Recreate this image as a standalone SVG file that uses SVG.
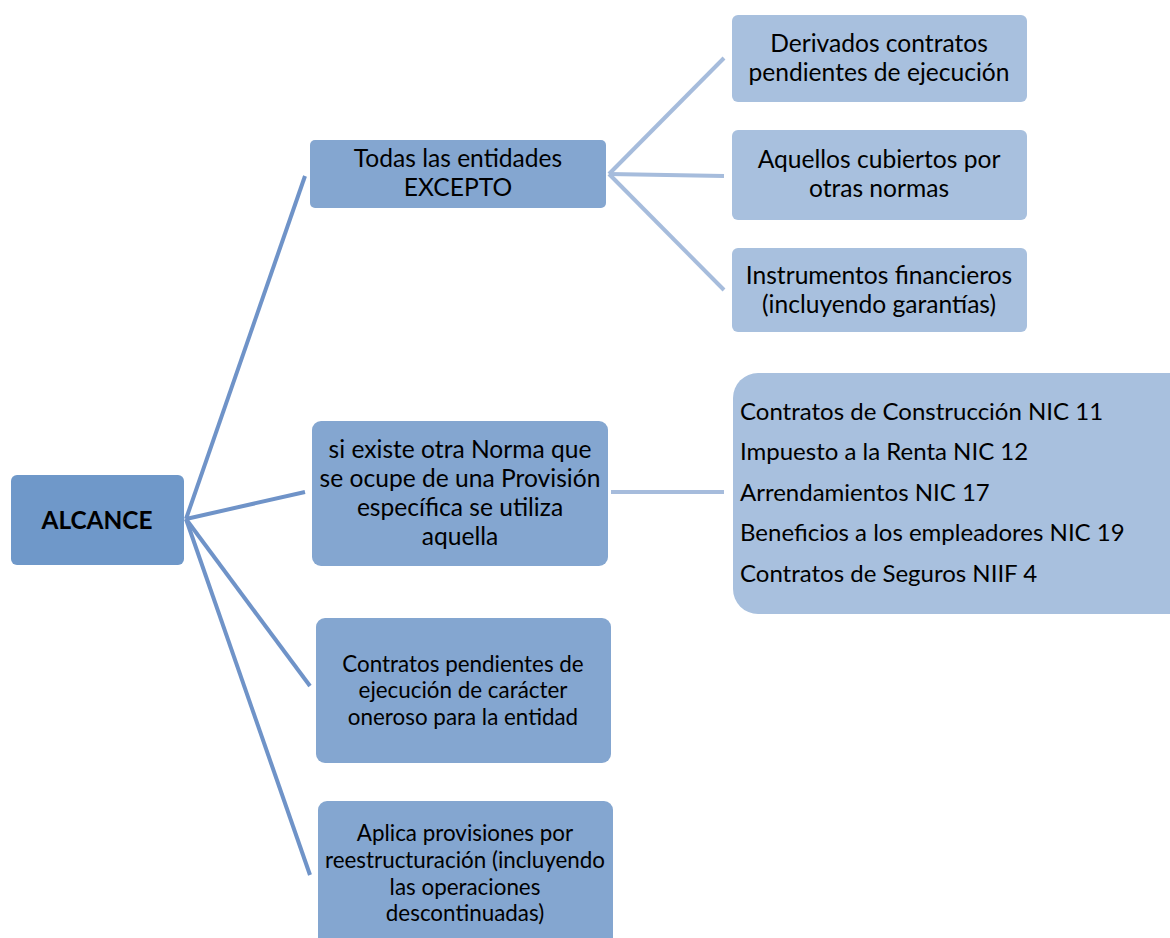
<svg xmlns="http://www.w3.org/2000/svg" width="1170" height="938" viewBox="0 0 1170 938">
  <style>
    text { font-family: Lato, "Open Sans", "Liberation Sans", sans-serif; fill: #000; }
    .root { fill: #6f98c9; }
    .mid { fill: #84a6d0; }
    .leaf { fill: #a8c0de; }
    .t22 { font-size: 24.6px; text-anchor: middle; }
    .t20 { font-size: 22.4px; text-anchor: middle; }
    .list { font-size: 24px; }
    .c1 { stroke: #6f93c8; stroke-width: 4; fill: none; }
    .c2 { stroke: #a6bcdc; stroke-width: 4; fill: none; }
  </style>
  <rect width="1170" height="938" fill="#ffffff"/>

  <g id="connectors">
    <line class="c1" x1="186" y1="519" x2="305" y2="176"/>
    <line class="c1" x1="186" y1="519" x2="305" y2="492"/>
    <line class="c1" x1="186" y1="519" x2="310" y2="686"/>
    <line class="c1" x1="186" y1="519" x2="310" y2="875"/>
    <line class="c2" x1="609" y1="174" x2="724" y2="58"/>
    <line class="c2" x1="609" y1="174" x2="724" y2="176"/>
    <line class="c2" x1="609" y1="174" x2="724" y2="290"/>
    <line class="c2" x1="611" y1="492" x2="724" y2="492"/>
  </g>

  <g id="alcance">
    <rect class="root" x="11" y="475" width="173" height="90" rx="6"/>
    <text x="97" y="529" font-size="24.4" font-weight="bold" text-anchor="middle">ALCANCE</text>
  </g>

  <g id="todas">
    <rect class="mid" x="310" y="140" width="296" height="68" rx="5"/>
    <text class="t22" x="458" y="167">Todas las entidades</text>
    <text class="t22" x="458" y="196">EXCEPTO</text>
  </g>

  <g id="otra-norma">
    <rect class="mid" x="312" y="421" width="296" height="145" rx="9"/>
    <text class="t22" x="460" y="458">si existe otra Norma que</text>
    <text class="t22" x="460" y="487">se ocupe de una Provisión</text>
    <text class="t22" x="460" y="516">específica se utiliza</text>
    <text class="t22" x="460" y="545">aquella</text>
  </g>

  <g id="onerosos">
    <rect class="mid" x="316" y="618" width="295" height="145" rx="9"/>
    <text class="t20" x="463" y="672">Contratos pendientes de</text>
    <text class="t20" x="463" y="698">ejecución de carácter</text>
    <text class="t20" x="463" y="725">oneroso para la entidad</text>
  </g>

  <g id="reestructuracion">
    <rect class="mid" x="318" y="801" width="295" height="150" rx="9"/>
    <text class="t20" x="465" y="841">Aplica provisiones por</text>
    <text class="t20" x="465" y="868">reestructuración (incluyendo</text>
    <text class="t20" x="465" y="895">las operaciones</text>
    <text class="t20" x="465" y="921">descontinuadas)</text>
  </g>

  <g id="derivados">
    <rect class="leaf" x="732" y="15" width="295" height="87" rx="6"/>
    <text class="t22" x="879" y="52">Derivados contratos</text>
    <text class="t22" x="879" y="81">pendientes de ejecución</text>
  </g>

  <g id="aquellos">
    <rect class="leaf" x="732" y="130" width="295" height="90" rx="6"/>
    <text class="t22" x="879" y="168">Aquellos cubiertos por</text>
    <text class="t22" x="879" y="197">otras normas</text>
  </g>

  <g id="instrumentos">
    <rect class="leaf" x="732" y="248" width="295" height="84" rx="6"/>
    <text class="t22" x="879" y="284">Instrumentos financieros</text>
    <text class="t22" x="879" y="313">(incluyendo garantías)</text>
  </g>

  <g id="otras-normas">
    <rect class="leaf" x="733" y="373" width="460" height="241" rx="25"/>
    <text class="list" x="740" y="420">Contratos de Construcción NIC 11</text>
    <text class="list" x="740" y="460">Impuesto a la Renta NIC 12</text>
    <text class="list" x="740" y="501">Arrendamientos NIC 17</text>
    <text class="list" x="740" y="541">Beneficios a los empleadores NIC 19</text>
    <text class="list" x="740" y="582">Contratos de Seguros NIIF 4</text>
  </g>
</svg>
